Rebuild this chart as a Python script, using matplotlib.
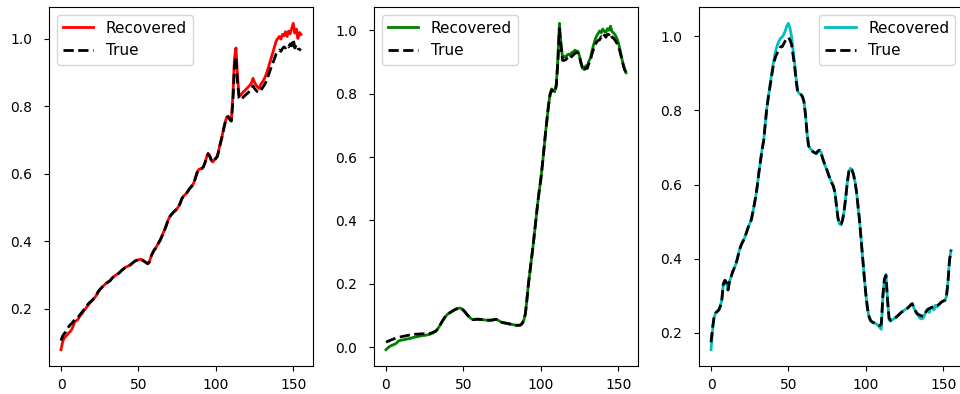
import numpy as np
import matplotlib
matplotlib.use("Agg")
import matplotlib.pyplot as plt

# Endmember signatures over 156 spectral bands
bands = np.arange(156)

soil_true = [
    0.105, 0.118, 0.125, 0.131, 0.140, 0.146, 0.152, 0.156, 0.162, 0.167,
    0.170, 0.174, 0.180, 0.186, 0.192, 0.198, 0.204, 0.210, 0.216, 0.220,
    0.224, 0.229, 0.235, 0.241, 0.250, 0.256, 0.261, 0.266, 0.271, 0.275,
    0.277, 0.280, 0.284, 0.290, 0.294, 0.298, 0.300, 0.303, 0.307, 0.312,
    0.316, 0.320, 0.323, 0.325, 0.327, 0.330, 0.334, 0.338, 0.341, 0.343,
    0.344, 0.346, 0.345, 0.342, 0.339, 0.336, 0.333, 0.338, 0.353, 0.363,
    0.372, 0.378, 0.386, 0.394, 0.402, 0.412, 0.424, 0.434, 0.446, 0.460,
    0.470, 0.477, 0.482, 0.487, 0.491, 0.496, 0.503, 0.512, 0.525, 0.532,
    0.537, 0.541, 0.548, 0.555, 0.560, 0.566, 0.575, 0.590, 0.604, 0.612,
    0.614, 0.615, 0.620, 0.632, 0.648, 0.658, 0.652, 0.640, 0.634, 0.638,
    0.645, 0.650, 0.670, 0.690, 0.708, 0.730, 0.750, 0.765, 0.768, 0.760,
    0.755, 0.810, 0.915, 0.946, 0.870, 0.824, 0.818, 0.822, 0.828, 0.832,
    0.836, 0.840, 0.845, 0.850, 0.860, 0.852, 0.846, 0.842, 0.840, 0.846,
    0.853, 0.860, 0.868, 0.878, 0.892, 0.905, 0.918, 0.930, 0.942, 0.955,
    0.960, 0.966, 0.962, 0.970, 0.975, 0.972, 0.980, 0.975, 0.984, 0.978,
    0.998, 0.972, 0.982, 0.970, 0.968, 0.965,
]
soil_rec = [
    0.078, 0.100, 0.112, 0.117, 0.122, 0.128, 0.132, 0.138, 0.150, 0.162,
    0.164, 0.168, 0.176, 0.182, 0.188, 0.194, 0.200, 0.207, 0.213, 0.218,
    0.223, 0.228, 0.234, 0.240, 0.249, 0.255, 0.260, 0.265, 0.270, 0.274,
    0.277, 0.280, 0.284, 0.290, 0.294, 0.298, 0.301, 0.304, 0.308, 0.312,
    0.316, 0.320, 0.323, 0.325, 0.327, 0.330, 0.334, 0.338, 0.341, 0.343,
    0.344, 0.346, 0.345, 0.342, 0.339, 0.336, 0.332, 0.337, 0.352, 0.363,
    0.372, 0.378, 0.386, 0.394, 0.402, 0.412, 0.424, 0.434, 0.446, 0.460,
    0.470, 0.477, 0.482, 0.487, 0.491, 0.496, 0.503, 0.512, 0.525, 0.532,
    0.537, 0.541, 0.548, 0.555, 0.560, 0.566, 0.575, 0.590, 0.604, 0.612,
    0.614, 0.615, 0.620, 0.632, 0.648, 0.660, 0.654, 0.641, 0.634, 0.640,
    0.646, 0.652, 0.672, 0.692, 0.710, 0.732, 0.752, 0.767, 0.770, 0.762,
    0.757, 0.830, 0.940, 0.972, 0.890, 0.830, 0.832, 0.838, 0.843, 0.847,
    0.852, 0.857, 0.862, 0.868, 0.882, 0.870, 0.862, 0.856, 0.852, 0.864,
    0.870, 0.878, 0.888, 0.900, 0.915, 0.930, 0.946, 0.962, 0.978, 0.993,
    1.000, 1.006, 0.998, 1.012, 1.008, 1.020, 1.006, 1.022, 1.014, 1.030,
    1.045, 1.016, 1.028, 1.000, 1.018, 1.012,
]

tree_true = [
    0.016, 0.018, 0.020, 0.022, 0.024, 0.026, 0.028, 0.030, 0.031, 0.032,
    0.033, 0.034, 0.035, 0.036, 0.037, 0.038, 0.039, 0.040, 0.040, 0.041,
    0.041, 0.041, 0.042, 0.042, 0.042, 0.042, 0.043, 0.043, 0.043, 0.044,
    0.046, 0.048, 0.050, 0.055, 0.062, 0.070, 0.079, 0.087, 0.094, 0.100,
    0.105, 0.108, 0.111, 0.114, 0.117, 0.119, 0.121, 0.122, 0.122, 0.120,
    0.116, 0.111, 0.105, 0.099, 0.094, 0.090, 0.087, 0.087, 0.088, 0.088,
    0.088, 0.087, 0.087, 0.086, 0.086, 0.085, 0.085, 0.085, 0.085, 0.086,
    0.087, 0.088, 0.086, 0.083, 0.080, 0.078, 0.077, 0.076, 0.075, 0.074,
    0.073, 0.072, 0.071, 0.070, 0.069, 0.069, 0.069, 0.070, 0.075, 0.085,
    0.105, 0.150, 0.200, 0.240, 0.280, 0.320, 0.365, 0.410, 0.455, 0.495,
    0.530, 0.575, 0.625, 0.675, 0.720, 0.765, 0.798, 0.812, 0.808, 0.805,
    0.825, 0.900, 1.005, 0.950, 0.905, 0.905, 0.907, 0.912, 0.915, 0.910,
    0.918, 0.922, 0.927, 0.930, 0.928, 0.915, 0.895, 0.880, 0.872, 0.882,
    0.880, 0.895, 0.905, 0.925, 0.940, 0.955, 0.962, 0.968, 0.970, 0.980,
    0.975, 0.985, 0.978, 0.988, 0.986, 0.992, 0.978, 0.975, 0.968, 0.960,
    0.950, 0.935, 0.915, 0.895, 0.878, 0.868,
]
tree_rec = [
    -0.008, -0.003, 0.001, 0.004, 0.006, 0.008, 0.010, 0.014, 0.019, 0.021,
    0.022, 0.023, 0.024, 0.025, 0.026, 0.027, 0.028, 0.030, 0.031, 0.032,
    0.033, 0.034, 0.035, 0.036, 0.037, 0.037, 0.038, 0.039, 0.040, 0.042,
    0.044, 0.047, 0.050, 0.055, 0.062, 0.070, 0.079, 0.087, 0.094, 0.100,
    0.105, 0.108, 0.111, 0.114, 0.117, 0.120, 0.122, 0.123, 0.123, 0.121,
    0.117, 0.111, 0.105, 0.099, 0.094, 0.090, 0.087, 0.087, 0.088, 0.088,
    0.088, 0.087, 0.087, 0.086, 0.086, 0.085, 0.085, 0.085, 0.085, 0.086,
    0.087, 0.088, 0.086, 0.083, 0.080, 0.078, 0.077, 0.076, 0.075, 0.074,
    0.073, 0.072, 0.071, 0.070, 0.069, 0.069, 0.069, 0.070, 0.075, 0.085,
    0.105, 0.150, 0.200, 0.240, 0.280, 0.320, 0.365, 0.410, 0.455, 0.495,
    0.530, 0.575, 0.625, 0.675, 0.720, 0.765, 0.800, 0.815, 0.810, 0.806,
    0.830, 0.910, 1.022, 0.960, 0.915, 0.918, 0.915, 0.922, 0.925, 0.920,
    0.930, 0.932, 0.937, 0.935, 0.933, 0.918, 0.897, 0.880, 0.876, 0.888,
    0.885, 0.902, 0.912, 0.935, 0.952, 0.970, 0.982, 0.990, 0.998, 0.992,
    1.004, 0.996, 0.994, 1.005, 1.000, 1.013, 0.995, 0.992, 0.985, 0.976,
    0.962, 0.942, 0.918, 0.896, 0.876, 0.866,
]

water_true = [
    0.175, 0.215, 0.243, 0.254, 0.258, 0.262, 0.272, 0.290, 0.333, 0.342,
    0.336, 0.316, 0.340, 0.352, 0.365, 0.375, 0.385, 0.400, 0.418, 0.432,
    0.442, 0.450, 0.460, 0.472, 0.485, 0.495, 0.505, 0.525, 0.548, 0.570,
    0.600, 0.635, 0.665, 0.695, 0.718, 0.760, 0.805, 0.835, 0.862, 0.890,
    0.915, 0.935, 0.948, 0.956, 0.963, 0.972, 0.972, 0.980, 0.988, 0.994,
    0.997, 0.990, 0.978, 0.950, 0.920, 0.880, 0.850, 0.845, 0.843, 0.838,
    0.825, 0.790, 0.740, 0.705, 0.698, 0.693, 0.688, 0.686, 0.684, 0.690,
    0.693, 0.688, 0.672, 0.660, 0.648, 0.638, 0.625, 0.615, 0.605, 0.596,
    0.580, 0.545, 0.510, 0.494, 0.493, 0.505, 0.530, 0.565, 0.605, 0.635,
    0.644, 0.640, 0.628, 0.608, 0.580, 0.540, 0.500, 0.450, 0.400, 0.350,
    0.305, 0.268, 0.245, 0.234, 0.230, 0.228, 0.226, 0.224, 0.222, 0.220,
    0.225, 0.300, 0.345, 0.355, 0.290, 0.240, 0.234, 0.236, 0.238, 0.241,
    0.244, 0.248, 0.252, 0.256, 0.259, 0.262, 0.265, 0.267, 0.271, 0.276,
    0.279, 0.268, 0.260, 0.253, 0.250, 0.248, 0.246, 0.245, 0.250, 0.258,
    0.264, 0.266, 0.268, 0.270, 0.272, 0.275, 0.274, 0.276, 0.280, 0.284,
    0.286, 0.288, 0.297, 0.335, 0.395, 0.423,
]
water_rec = [
    0.155, 0.205, 0.242, 0.254, 0.258, 0.262, 0.272, 0.290, 0.333, 0.342,
    0.336, 0.316, 0.340, 0.352, 0.365, 0.375, 0.385, 0.400, 0.418, 0.432,
    0.442, 0.450, 0.460, 0.472, 0.485, 0.495, 0.505, 0.525, 0.548, 0.570,
    0.600, 0.635, 0.665, 0.695, 0.718, 0.760, 0.805, 0.835, 0.865, 0.895,
    0.922, 0.945, 0.965, 0.978, 0.988, 0.995, 0.998, 1.005, 1.015, 1.028,
    1.035, 1.022, 1.000, 0.965, 0.928, 0.885, 0.852, 0.846, 0.843, 0.838,
    0.825, 0.790, 0.740, 0.705, 0.698, 0.693, 0.688, 0.686, 0.684, 0.690,
    0.693, 0.688, 0.672, 0.660, 0.648, 0.638, 0.625, 0.615, 0.605, 0.596,
    0.580, 0.545, 0.510, 0.494, 0.493, 0.505, 0.530, 0.565, 0.605, 0.635,
    0.644, 0.640, 0.628, 0.608, 0.580, 0.540, 0.500, 0.450, 0.400, 0.350,
    0.305, 0.268, 0.245, 0.234, 0.230, 0.228, 0.226, 0.224, 0.220, 0.215,
    0.210, 0.300, 0.345, 0.358, 0.290, 0.236, 0.232, 0.236, 0.238, 0.241,
    0.244, 0.248, 0.252, 0.256, 0.259, 0.262, 0.265, 0.267, 0.271, 0.276,
    0.279, 0.268, 0.258, 0.251, 0.246, 0.240, 0.238, 0.240, 0.250, 0.258,
    0.264, 0.255, 0.268, 0.270, 0.262, 0.275, 0.270, 0.276, 0.280, 0.284,
    0.286, 0.288, 0.297, 0.335, 0.395, 0.423,
]

panels = [
    (soil_rec, soil_true, "r", "upper left"),
    (tree_rec, tree_true, "g", "upper left"),
    (water_rec, water_true, "c", "upper right"),
]

W, H = 960, 394
fig = plt.figure(figsize=(W / 100, H / 100), dpi=100)
lefts = [49, 374, 699]
ax_w, ax_b, ax_h = 264, 28, 359

for left, (rec, true, color, loc) in zip(lefts, panels):
    ax = fig.add_axes([left / W, ax_b / H, ax_w / W, ax_h / H])
    ax.plot(bands, rec, color=color, lw=2.0, label="Recovered")
    ax.plot(bands, true, color="k", lw=2.0, ls="--", label="True")
    ax.set_xticks([0, 50, 100, 150])
    ax.tick_params(labelsize=10)
    ax.tick_params(axis="y", pad=8.5)
    ax.tick_params(axis="x", pad=5)
    ax.legend(loc=loc, fontsize=11)

fig.savefig("out.png", dpi=100)
